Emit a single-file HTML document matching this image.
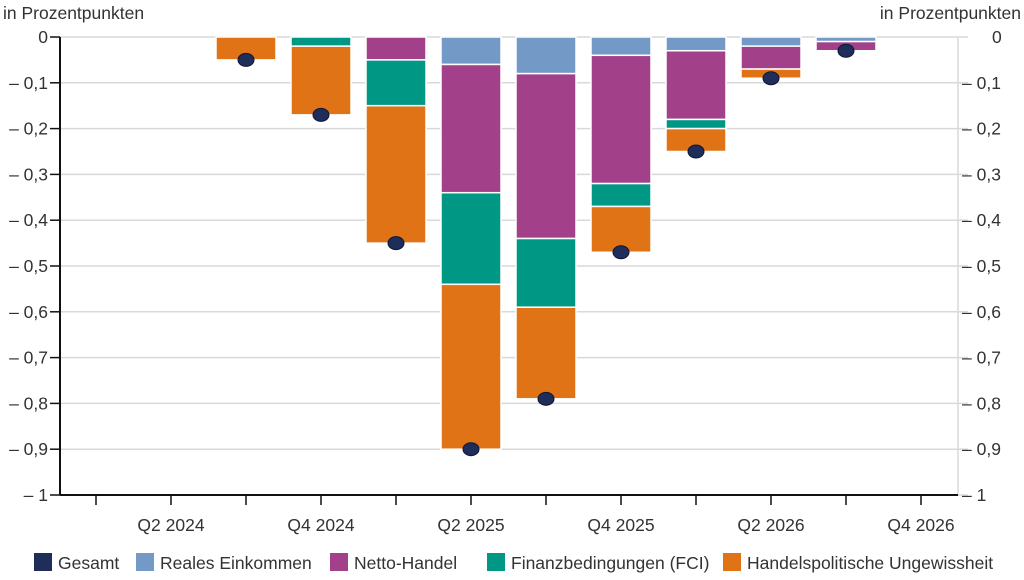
<!DOCTYPE html>
<html><head><meta charset="utf-8"><style>
body{margin:0;background:#fff;font-family:"Liberation Sans",sans-serif;}
svg text{font-family:"Liberation Sans",sans-serif;fill:#333;}
</style></head><body>
<svg id="chart" width="1024" height="575" xmlns="http://www.w3.org/2000/svg"></svg>
<script>
const categories=["Q1 2024","Q2 2024","Q3 2024","Q4 2024","Q1 2025","Q2 2025","Q3 2025","Q4 2025","Q1 2026","Q2 2026","Q3 2026","Q4 2026"];
const realIncome=[0,0,0,0,0,-0.06,-0.08,-0.04,-0.03,-0.02,-0.01,0];
const netTrade=[0,0,0,0,-0.05,-0.28,-0.36,-0.28,-0.15,-0.05,-0.02,0];
const fci=[0,0,0,-0.02,-0.10,-0.20,-0.15,-0.05,-0.02,0,0,0];
const tradeUnc=[0,0,-0.05,-0.15,-0.30,-0.36,-0.20,-0.10,-0.05,-0.02,0,0];
const total=[null,null,-0.05,-0.17,-0.45,-0.90,-0.79,-0.47,-0.25,-0.09,-0.03,null];
const yTicks=[0,-0.1,-0.2,-0.3,-0.4,-0.5,-0.6,-0.7,-0.8,-0.9,-1];
const xLabels=["","Q2 2024","","Q4 2024","","Q2 2025","","Q4 2025","","Q2 2026","","Q4 2026"];

const NS="http://www.w3.org/2000/svg";
const svg=document.getElementById('chart');
const L=60,R=958,T=37,B=495;
const y=v=>T+(-v)*(B-T);
const x=i=>96+i*75;
function el(t,a,p){const e=document.createElementNS(NS,t);for(const k in a)e.setAttribute(k,a[k]);(p||svg).appendChild(e);return e;}
function fmt(v){if(v===0)return "0";if(v===-1)return "\u2013 1";return "\u2013 "+Math.abs(v).toFixed(1).replace('.',',');}
const FS=17.5;

const t1=el('text',{x:3,y:19,'font-size':FS});t1.textContent="in Prozentpunkten";


const t2=el('text',{x:1021,y:19,'font-size':FS,'text-anchor':'end'});t2.textContent="in Prozentpunkten";



yTicks.forEach(v=>{
  const g=el('line',{x1:L,x2:R,y1:y(v),y2:y(v),stroke:'#d9d9d9','stroke-width':1.5});
  
  
  el('line',{x1:50,x2:L,y1:y(v),y2:y(v),stroke:'#111','stroke-width':1.5});
  el('line',{x1:R,x2:968,y1:y(v),y2:y(v),stroke:'#d9d9d9','stroke-width':1.5});
  const a=el('text',{x:48,y:y(v)+6,'font-size':FS,'text-anchor':'end'});a.textContent=fmt(v);
  
  
  const b=el('text',{x:v===0?992:962,y:y(v)+6,'font-size':FS});b.textContent=fmt(v);
  
  
});
el('line',{x1:R,x2:R,y1:T,y2:B,stroke:'#d9d9d9','stroke-width':1.5});

const series=[[realIncome,'#7399c6','reales-einkommen'],[netTrade,'#a2418a','netto-handel'],[fci,'#009884','fci'],[tradeUnc,'#e07315','handelspolitische-ungewissheit']];
categories.forEach((c,i)=>{
  let cum=0;
  series.forEach(([arr,col,nm])=>{
    const v=arr[i]; if(!v)return;
    const r=el('rect',{x:x(i)-30,y:y(cum),width:60,height:y(cum+v)-y(cum),fill:col,stroke:'#fff','stroke-width':1.5});
    
    
    cum+=v;
  });
});
el('line',{x1:L,x2:L,y1:T,y2:B,stroke:'#111','stroke-width':2});
el('line',{x1:L,x2:R,y1:B,y2:B,stroke:'#111','stroke-width':2});
categories.forEach((c,i)=>{
  el('line',{x1:x(i),x2:x(i),y1:B,y2:B+10,stroke:'#111','stroke-width':1.5});
  if(xLabels[i]){const t=el('text',{x:x(i),y:531,'font-size':FS,'text-anchor':'middle'});t.textContent=xLabels[i];
  
  }
});
total.forEach((v,i)=>{
  if(v===null)return;
  const d=el('ellipse',{cx:x(i),cy:y(v),rx:8,ry:6.5,fill:'#1f2d5a',stroke:'#0e1633','stroke-width':1});
  
  
});
const leg=[["Gesamt",'#1f2d5a',34],["Reales Einkommen",'#7399c6',136],["Netto-Handel",'#a2418a',330],["Finanzbedingungen (FCI)",'#009884',487],["Handelspolitische Ungewissheit",'#e07315',723]];
leg.forEach(([n,c,lx])=>{
  const g=el('g',{});
  
  
  el('rect',{x:lx,y:553,width:18,height:18,fill:c},g);
  const t=el('text',{x:lx+24,y:569,'font-size':FS},g);t.textContent=n;
});
</script>
</body></html>
